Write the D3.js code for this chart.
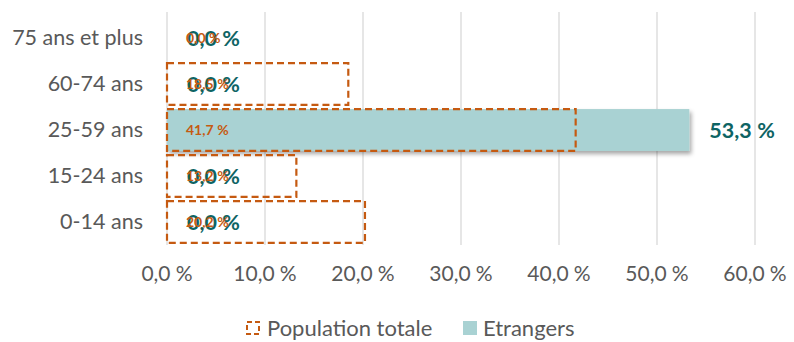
<!DOCTYPE html>
<html><head><meta charset="utf-8">
<script src="https://cdn.jsdelivr.net/npm/d3@7"></script>
<style>body{margin:0;background:#fff}</style>
</head><body>
<svg id="c" width="794" height="342"></svg>
<script>
const categories = ["75 ans et plus","60-74 ans","25-59 ans","15-24 ans","0-14 ans"];
const populationTotale = [0.0, 18.5, 41.7, 13.2, 20.2];
const etrangers = [0.0, 0.0, 53.3, 0.0, 0.0];
const ticks = [0,10,20,30,40,50,60];
const seriesNames = ["Population totale","Etrangers"];

const fmt = v => v.toFixed(1).replace(".", ",") + "\u202F%";
const svg = d3.select("#c");
const font = "Lato, 'Open Sans', sans-serif";
const orange = "#C55A11", teal = "#A9D2D3", tealText = "#0E6464", grey = "#595959";

const x = d3.scaleLinear().domain([0,60]).range([167,755]);
const y = d3.scaleBand().domain(categories).range([15,245]).paddingInner(0.09).paddingOuter(0.045);

const defs = svg.append("defs");
const f = defs.append("filter").attr("id","sh").attr("x","-5%").attr("y","-20%").attr("width","115%").attr("height","160%");
f.append("feDropShadow").attr("dx",2).attr("dy",3).attr("stdDeviation",2).attr("flood-color","#000").attr("flood-opacity",0.35);

// grid
svg.append("g").selectAll("line").data(ticks).join("line")
  .attr("x1",d=>x(d)).attr("x2",d=>x(d)).attr("y1",12).attr("y2",245)
  .attr("stroke","#d9d9d9").attr("stroke-width",1.3);

// axis labels
svg.append("g").selectAll("text").data(ticks).join("text")
  .attr("x",d=>x(d)).attr("y",281).attr("text-anchor","middle")
  .attr("font-family",font).attr("font-size",21).attr("fill",grey)
  .text(d=>fmt(d));

// category labels
svg.append("g").selectAll("text").data(categories).join("text")
  .attr("x",143).attr("y",d=>y(d)+y.bandwidth()/2+7).attr("text-anchor","end")
  .attr("font-family",font).attr("font-size",21.5).attr("fill",grey)
  .text(d=>d);

// etrangers bars
svg.append("g").selectAll("rect").data(etrangers).join("rect")
  .attr("x",x(0)).attr("y",(d,i)=>y(categories[i]))
  .attr("width",d=>x(d)-x(0)).attr("height",y.bandwidth())
  .attr("fill",teal).attr("filter",d=>d>0?"url(#sh)":null);

// population totale boxes
svg.append("g").selectAll("rect").data(populationTotale).join("rect")
  .attr("x",x(0)).attr("y",(d,i)=>y(categories[i]))
  .attr("width",d=>x(d)-x(0)).attr("height",y.bandwidth())
  .attr("fill","none").attr("stroke",d=>d>0?orange:"none").attr("stroke-width",2.2)
  .attr("stroke-dasharray","7,4");

// etrangers labels
svg.append("g").selectAll("text").data(etrangers).join("text")
  .attr("x",d=>x(d)+20).attr("y",(d,i)=>y(categories[i])+y.bandwidth()/2+7.5)
  .attr("font-family",font).attr("font-size",21.5).attr("font-weight","bold").attr("fill",tealText)
  .text(d=>fmt(d));

// population labels
svg.append("g").selectAll("text").data(populationTotale).join("text")
  .attr("x",x(0)+19).attr("y",(d,i)=>y(categories[i])+y.bandwidth()/2+5)
  .attr("font-family",font).attr("font-size",14).attr("font-weight","bold").attr("fill",orange)
  .text(d=>fmt(d));

// legend
const lg = svg.append("g");
lg.append("rect").attr("x",247).attr("y",322).attr("width",12).attr("height",12)
  .attr("fill","none").attr("stroke",orange).attr("stroke-width",2).attr("stroke-dasharray","5,3");
lg.append("text").attr("x",267).attr("y",336).attr("font-family",font).attr("font-size",22).attr("fill",grey).text(seriesNames[0]);
lg.append("rect").attr("x",463).attr("y",321).attr("width",14).attr("height",14).attr("fill",teal);
lg.append("text").attr("x",483).attr("y",336).attr("font-family",font).attr("font-size",22).attr("fill",grey).text(seriesNames[1]);
</script>
</body></html>
